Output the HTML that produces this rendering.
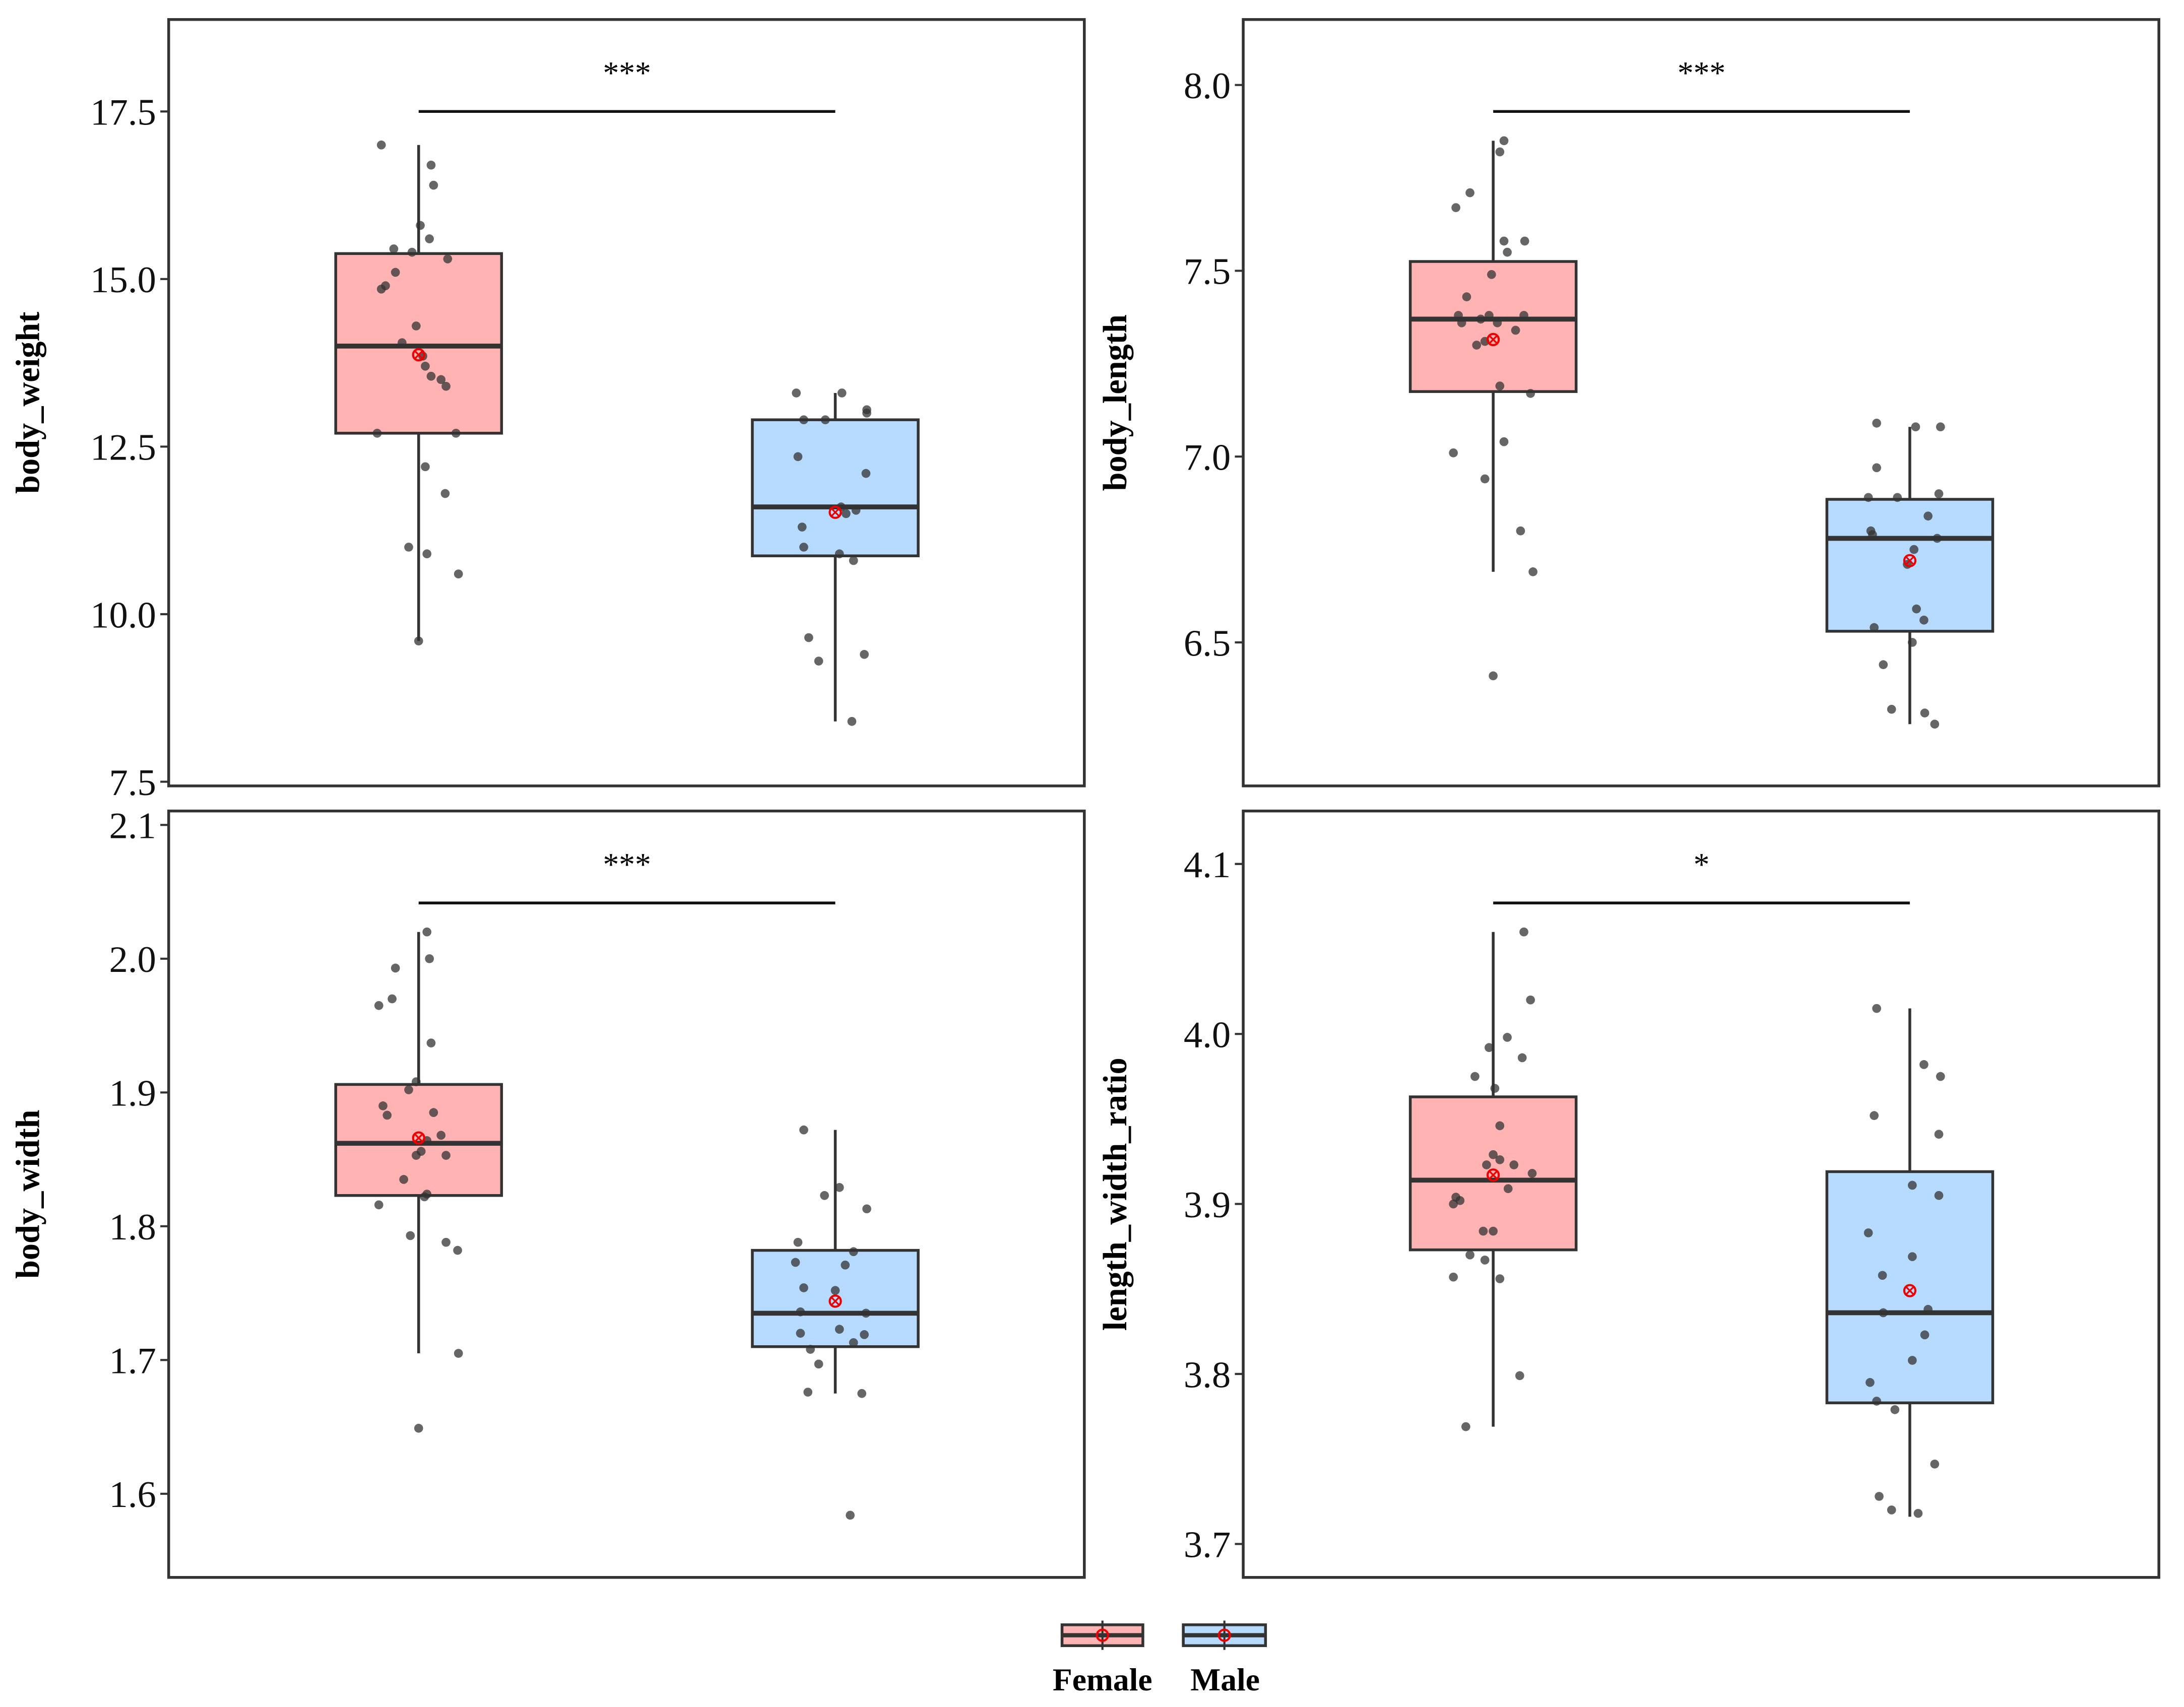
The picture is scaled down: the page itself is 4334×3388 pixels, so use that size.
<!DOCTYPE html>
<html><head><meta charset="utf-8"><style>
html,body{margin:0;padding:0;background:#fff}
svg{display:block}
text{font-family:"Liberation Serif",serif}
</style></head><body>
<svg id="chart" xmlns="http://www.w3.org/2000/svg" width="4334" height="3388" viewBox="0 0 1567 1225">
<rect width="1567" height="1225" fill="#fff"/>
<g id="plots"></g>
<g>
 <g>
  <rect x="762" y="1166" width="58" height="15" fill="#ffb3b3" stroke="#333" stroke-width="2"/>
  <line x1="791" y1="1163" x2="791" y2="1184" stroke="#333" stroke-width="1.5"/>
  <line x1="762" y1="1173.5" x2="820" y2="1173.5" stroke="#333" stroke-width="3"/>
  <circle cx="791" cy="1173.5" r="4" fill="none" stroke="#e00" stroke-width="1.5"/>
  <text x="791" y="1213" font-size="23" font-weight="bold" text-anchor="middle">Female</text>
 </g>
 <g>
  <rect x="849" y="1166" width="59" height="15" fill="#b7dbff" stroke="#333" stroke-width="2"/>
  <line x1="878.5" y1="1163" x2="878.5" y2="1184" stroke="#333" stroke-width="1.5"/>
  <line x1="849" y1="1173.5" x2="908" y2="1173.5" stroke="#333" stroke-width="3"/>
  <circle cx="878.5" cy="1173.5" r="4" fill="none" stroke="#e00" stroke-width="1.5"/>
  <text x="879" y="1213" font-size="23" font-weight="bold" text-anchor="middle">Male</text>
 </g>
</g>
</svg>
<script>
// ---- data ----
const groups = ["Female","Male"];
const titles = ["body_weight","body_length","body_width","length_width_ratio"];
const sigLabels = ["***","***","***","*"];
const ticks1 = ["7.5","10.0","12.5","15.0","17.5"];
const ticks2 = ["6.5","7.0","7.5","8.0"];
const ticks3 = ["1.6","1.7","1.8","1.9","2.0","2.1"];
const ticks4 = ["3.7","3.8","3.9","4.0","4.1"];
// box stats: [whiskerLow, q1, median, q3, whiskerHigh, mean]
const stats1F = [9.6,12.7,14.0,15.38,17.0,13.87];
const stats1M = [8.4,10.87,11.6,12.9,13.3,11.52];
const stats2F = [6.69,7.175,7.37,7.525,7.85,7.315];
const stats2M = [6.28,6.53,6.78,6.885,7.08,6.72];
const stats3F = [1.705,1.823,1.862,1.906,2.02,1.866];
const stats3M = [1.675,1.71,1.735,1.782,1.872,1.744];
const stats4F = [3.769,3.873,3.914,3.963,4.06,3.917];
const stats4M = [3.716,3.783,3.836,3.919,4.015,3.849];
const pts1F = [17.0,16.7,16.4,15.8,15.6,15.45,15.4,15.3,15.1,14.9,14.85,14.3,14.05,13.85,13.7,13.55,13.5,13.4,12.7,12.7,12.2,11.8,11.0,10.9,10.6,9.6];
const pts1M = [13.3,13.3,13.05,13.0,12.9,12.9,12.35,12.1,11.6,11.55,11.5,11.3,11.0,10.9,10.8,9.65,9.4,9.3,8.4];
const pts2F = [7.85,7.82,7.71,7.67,7.58,7.58,7.55,7.49,7.43,7.38,7.38,7.38,7.37,7.36,7.36,7.34,7.31,7.30,7.19,7.17,7.04,7.01,6.94,6.80,6.69,6.41];
const pts2M = [7.09,7.08,7.08,6.97,6.89,6.89,6.9,6.84,6.80,6.79,6.78,6.75,6.71,6.59,6.56,6.54,6.50,6.44,6.32,6.31,6.28];
const pts3F = [2.02,2.0,1.993,1.97,1.965,1.937,1.908,1.902,1.89,1.883,1.885,1.868,1.864,1.853,1.853,1.856,1.835,1.824,1.822,1.816,1.793,1.788,1.782,1.705,1.649];
const pts3M = [1.872,1.823,1.829,1.813,1.788,1.781,1.773,1.771,1.754,1.752,1.736,1.735,1.723,1.72,1.719,1.713,1.708,1.697,1.676,1.675,1.584];
const pts4F = [4.06,4.02,3.998,3.992,3.986,3.975,3.968,3.946,3.929,3.926,3.923,3.923,3.918,3.909,3.904,3.902,3.9,3.884,3.884,3.87,3.867,3.856,3.857,3.799,3.769];
const pts4M = [4.015,3.982,3.975,3.952,3.941,3.911,3.905,3.883,3.869,3.858,3.836,3.838,3.823,3.808,3.795,3.784,3.779,3.747,3.728,3.72,3.718];
// horizontal jitter (fraction of half box width)
const jit1F = [-0.45,0.15,0.18,0.02,0.13,-0.3,-0.08,0.35,-0.28,-0.4,-0.45,-0.03,-0.2,0.05,0.08,0.15,0.27,0.33,-0.5,0.45,0.08,0.32,-0.12,0.1,0.48,0];
const jit1M = [-0.47,0.08,0.38,0.38,-0.12,-0.38,-0.45,0.37,0.07,0.25,0.13,-0.4,-0.38,0.05,0.22,-0.32,0.35,-0.2,0.2];
const jit2F = [0.13,0.08,-0.28,-0.45,0.13,0.38,0.17,-0.02,-0.32,-0.42,-0.05,0.37,-0.15,0.05,-0.38,0.27,-0.1,-0.2,0.08,0.45,0.13,-0.48,-0.1,0.33,0.48,0];
const jit2M = [-0.4,0.07,0.37,-0.4,-0.5,-0.15,0.35,0.22,-0.47,-0.45,0.33,0.05,-0.03,0.08,0.17,-0.43,0.03,-0.32,-0.22,0.18,0.3];
const jit3F = [0.1,0.13,-0.28,-0.32,-0.48,0.15,-0.03,-0.12,-0.43,-0.38,0.18,0.27,0.1,0.33,-0.03,0.03,-0.18,0.1,0.07,-0.48,-0.1,0.33,0.47,0.48,0];
const jit3M = [-0.38,-0.13,0.05,0.38,-0.45,0.22,-0.48,0.12,-0.38,0,-0.42,0.37,0.05,-0.42,0.35,0.22,-0.3,-0.2,-0.33,0.32,0.18];
const jit4F = [0.37,0.45,0.17,-0.05,0.35,-0.22,0.02,0.08,0,0.08,0.25,-0.08,0.47,0.18,-0.45,-0.4,-0.48,-0.12,0,-0.28,-0.1,0.08,-0.48,0.32,-0.33];
const jit4M = [-0.4,0.17,0.37,-0.43,0.35,0.03,0.35,-0.5,0.03,-0.33,-0.32,0.22,0.18,0.03,-0.48,-0.4,-0.18,0.3,-0.37,-0.22,0.1];

const NS="http://www.w3.org/2000/svg";
const root=document.getElementById('plots');
function mk(tag,attrs,parent,txt){const e=document.createElementNS(NS,tag);for(const k in attrs)e.setAttribute(k,attrs[k]);if(txt!==undefined)e.textContent=txt;parent.appendChild(e);return e;}

const panels=[
 {x0:121,x1:778,y0:14,y1:564,vA:17.5,yA:80,vB:7.5,yB:561,ticks:ticks1,stats:[stats1F,stats1M],pts:[pts1F,pts1M],jit:[jit1F,jit1M],sig:80,tx:28},
 {x0:892,x1:1549,y0:14,y1:564,vA:8.0,yA:61,vB:6.5,yB:461,ticks:ticks2,stats:[stats2F,stats2M],pts:[pts2F,pts2M],jit:[jit2F,jit2M],sig:80,tx:808},
 {x0:121,x1:778,y0:582,y1:1132,vA:2.1,yA:592,vB:1.6,yB:1072,ticks:ticks3,stats:[stats3F,stats3M],pts:[pts3F,pts3M],jit:[jit3F,jit3M],sig:648,tx:28},
 {x0:892,x1:1549,y0:582,y1:1132,vA:4.1,yA:620,vB:3.7,yB:1108,ticks:ticks4,stats:[stats4F,stats4M],pts:[pts4F,pts4M],jit:[jit4F,jit4M],sig:648,tx:808}
];
const fills=["#ffb3b3","#b7dbff"];
panels.forEach((p,i)=>{
 const g=mk('g',{},root);
 
 
 const y=v=>p.yA+(v-p.vA)*(p.yB-p.yA)/(p.vB-p.vA);
 const W=p.x1-p.x0;
 const xc=k=>p.x0+W*(k===0?0.273:0.728);
 const hw=59.5;
 mk('rect',{x:p.x0,y:p.y0,width:W,height:p.y1-p.y0,fill:'none',stroke:'#333','stroke-width':2},g);
 const tg=mk('g',{},g);
 
 
 p.ticks.forEach(t=>{const v=parseFloat(t),yy=y(v);
  mk('line',{x1:p.x0-6,y1:yy,x2:p.x0,y2:yy,stroke:'#333','stroke-width':1.5},tg);
  const tx=mk('text',{x:p.x0-9,y:yy+9.5,'font-size':27,'text-anchor':'end',fill:'#111'},tg,t);
  
  
 });
 const ttl=mk('text',{x:0,y:0,'font-size':24,'font-weight':'bold','text-anchor':'middle',transform:`translate(${p.tx},${(p.y0+p.y1)/2}) rotate(-90)`},g,titles[i]);
 
 
 [0,1].forEach(k=>{
  const s=p.stats[k],cx=xc(k);
  const bg=mk('g',{},g);
  
  
  mk('line',{x1:cx,y1:y(s[0]),x2:cx,y2:y(s[4]),stroke:'#333','stroke-width':2},bg);
  mk('rect',{x:cx-hw,y:y(s[3]),width:2*hw,height:y(s[1])-y(s[3]),fill:fills[k],stroke:'#333','stroke-width':2},bg);
  mk('line',{x1:cx-hw,y1:y(s[2]),x2:cx+hw,y2:y(s[2]),stroke:'#333','stroke-width':3.5},bg);
  p.pts[k].forEach((v,j)=>{
   const c=mk('circle',{cx:cx+p.jit[k][j]*hw,cy:y(v),r:3.2,fill:'#333','fill-opacity':0.75},bg);
   
   
  });
  const my=y(s[5]);
  const m=mk('g',{},bg);
  
  
  mk('circle',{cx:cx,cy:my,r:4,fill:'none',stroke:'#e00','stroke-width':1.5},m);
  mk('path',{d:`M${cx-2.8},${my-2.8}L${cx+2.8},${my+2.8}M${cx-2.8},${my+2.8}L${cx+2.8},${my-2.8}`,stroke:'#e00','stroke-width':1.2},m);
 });
 const sg=mk('g',{},g);
 
 
 mk('line',{x1:xc(0),y1:p.sig,x2:xc(1),y2:p.sig,stroke:'#111','stroke-width':2},sg);
 mk('text',{x:(xc(0)+xc(1))/2,y:p.sig-20,'font-size':23,'text-anchor':'middle'},sg,sigLabels[i]);
});
</script>
</body></html>
